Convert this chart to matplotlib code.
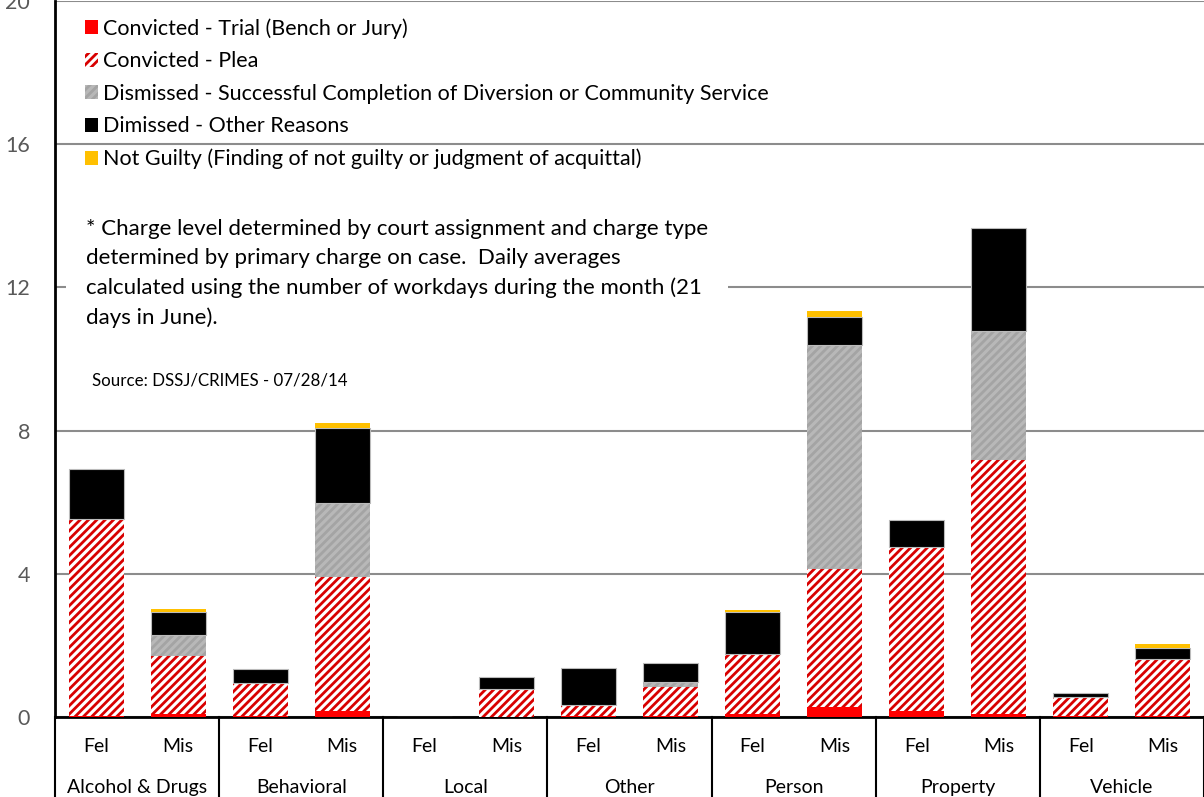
# Daily case dispositions by charge type and level
import numpy as np
import matplotlib
matplotlib.use('Agg')
import matplotlib.pyplot as plt
import matplotlib.transforms as mtransforms
from matplotlib.patches import Patch

plt.rcParams['font.family'] = ['Lato', 'DejaVu Sans']
plt.rcParams['hatch.linewidth'] = 2.0

# Data
groups = ['Alcohol & Drugs', 'Behavioral', 'Local', 'Other', 'Person', 'Property', 'Vehicle']
levels = ['Fel', 'Mis'] * 7
trial = [0.03, 0.08, 0.02, 0.18, 0.0, 0.0, 0.02, 0.03, 0.08, 0.27, 0.17, 0.08, 0.02, 0.03]
plea = [5.51, 1.63, 0.92, 3.72, 0.0, 0.78, 0.31, 0.82, 1.65, 3.86, 4.57, 7.09, 0.55, 1.58]
diversion = [0.0, 0.57, 0.0, 2.09, 0.0, 0.0, 0.0, 0.13, 0.03, 6.27, 0.0, 3.62, 0.0, 0.0]
dismissed_other = [1.39, 0.66, 0.39, 2.09, 0.0, 0.34, 1.05, 0.54, 1.18, 0.77, 0.76, 2.86, 0.09, 0.32]
not_guilty = [0.0, 0.09, 0.0, 0.14, 0.0, 0.0, 0.0, 0.0, 0.04, 0.16, 0.0, 0.0, 0.0, 0.11]

labels = ['Convicted - Trial (Bench or Jury)',
          'Convicted - Plea',
          'Dismissed - Successful Completion of Diversion or Community Service',
          'Dimissed - Other Reasons',
          'Not Guilty (Finding of not guilty or judgment of acquittal)']

note = ("* Charge level determined by court assignment and charge type\n"
        "determined by primary charge on case.  Daily averages\n"
        "calculated using the number of workdays during the month (21\n"
        "days in June).")
source = "Source: DSSJ/CRIMES - 07/28/14"

fig = plt.figure(figsize=(12.04, 7.97), dpi=100)
ax = fig.add_axes([55/1204, 1 - 717/797, 1 - 55/1204, 716/797])

x = np.arange(len(levels))
w = 0.67
bottom = np.zeros(len(x))

plea_style = dict(facecolor='white', edgecolor='#d80000', hatch='////', linewidth=0)
div_style = dict(facecolor='#b8b8b8', edgecolor='#a4a4a4', hatch='////', linewidth=0)

ax.bar(x, trial, w, bottom=bottom, color='#ff0000', linewidth=0, zorder=3)
bottom += trial
ax.bar(x, plea, w, bottom=bottom, zorder=3, **plea_style)
bottom += plea
ax.bar(x, diversion, w, bottom=bottom, zorder=3, **div_style)
bottom += diversion
ax.bar(x, dismissed_other, w, bottom=bottom, color='black', edgecolor='#bbbbbb', linewidth=0.8, zorder=3)
bottom += dismissed_other
ax.bar(x, not_guilty, w, bottom=bottom, color='#ffc000', linewidth=0, zorder=3)

ax.set_xlim(-0.5, len(x) - 0.5)
ax.set_ylim(0, 20)
ax.set_yticks([0, 4, 8, 12, 16, 20])
ax.tick_params(axis='y', length=0, pad=18, labelsize=15.5, labelcolor='#595959')
ax.yaxis.grid(True, color='#8c8c8c', linewidth=1.5, zorder=0)
ax.set_axisbelow(True)
for s in ['top', 'right']:
    ax.spines[s].set_visible(False)
ax.spines['left'].set_linewidth(2)
ax.spines['bottom'].set_linewidth(2)

# two-level category axis
ax.set_xticks(x)
ax.set_xticklabels(levels, fontsize=14)
ax.tick_params(axis='x', length=0, pad=15)
trans = mtransforms.blended_transform_factory(ax.transData, ax.transAxes)
for i, g in enumerate(groups):
    ax.text(2 * i + 0.5, -0.099, g, transform=trans, ha='center', va='center', fontsize=14)
for b in np.arange(-0.5, len(x), 2):
    ax.plot([b, b], [0, -0.12], transform=trans, color='black', linewidth=1.5, clip_on=False)

# legend
handles = [Patch(facecolor='#ff0000', linewidth=0),
           Patch(**plea_style),
           Patch(**div_style),
           Patch(facecolor='black', linewidth=0),
           Patch(facecolor='#ffc000', linewidth=0)]
ax.legend(handles, labels, loc='upper left', bbox_to_anchor=(0.0185, 0.988), frameon=False,
          fontsize=15.5, handlelength=0.62, handleheight=0.62, handletextpad=0.2,
          labelspacing=0.58, borderaxespad=0)

ax.text(0.027, 0.695, note, transform=ax.transAxes, ha='left', va='top', fontsize=16,
        linespacing=1.55, bbox=dict(facecolor='white', edgecolor='none', pad=14), zorder=4)
ax.text(0.032, 0.470, source, transform=ax.transAxes, ha='left', va='center', fontsize=12.2)

fig.savefig('out.png', dpi=100)
